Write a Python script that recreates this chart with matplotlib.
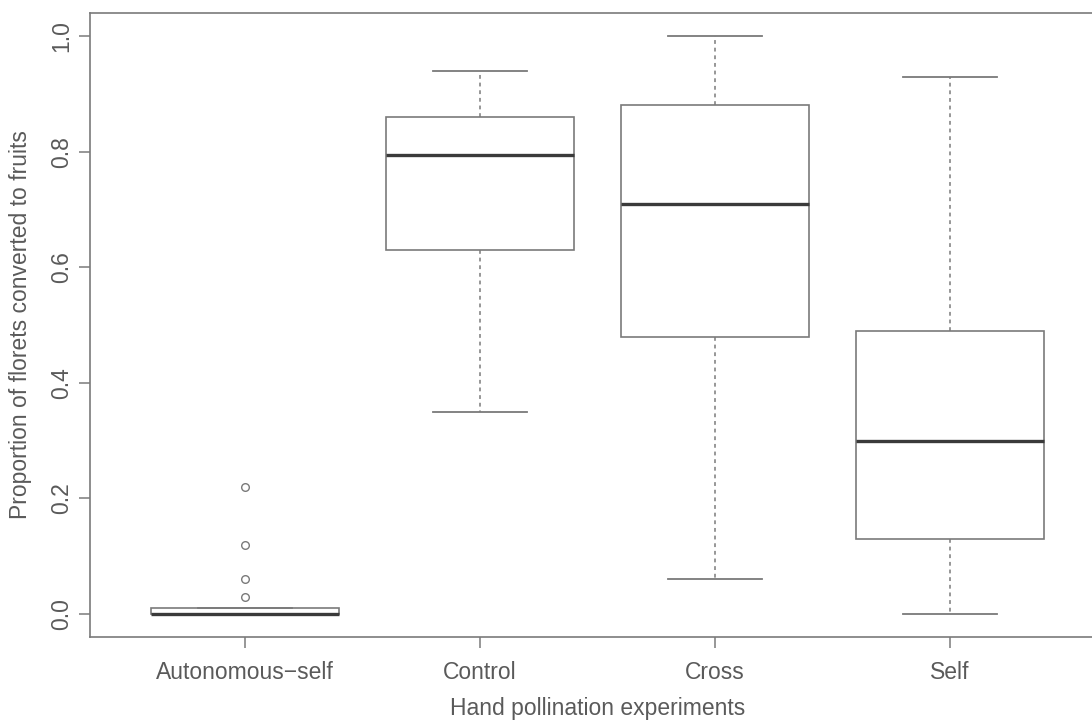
import matplotlib
matplotlib.use("Agg")
import matplotlib.pyplot as plt

categories = ["Autonomous\u2212self", "Control", "Cross", "Self"]
whisker_low = [0.0, 0.35, 0.06, 0.0]
q1 = [0.0, 0.63, 0.48, 0.13]
median = [0.0, 0.795, 0.71, 0.30]
q3 = [0.01, 0.86, 0.88, 0.49]
whisker_high = [0.01, 0.94, 1.0, 0.93]
outliers = [[0.22, 0.12, 0.06, 0.03], [], [], []]

yticks = [0.0, 0.2, 0.4, 0.6, 0.8, 1.0]
ytick_labels = ["0.0", "0.2", "0.4", "0.6", "0.8", "1.0"]

plt.rcParams['font.family'] = ['Liberation Sans', 'DejaVu Sans']
line_c = "#7a7a7a"
text_c = "#5a5a5a"
med_c = "#3a3a3a"

fig = plt.figure(figsize=(10.92, 7.24), dpi=100)
ax = fig.add_axes([90/1092, 1-637/724, 1015/1092, 624/724])

stats = []
for i, name in enumerate(categories):
    stats.append(dict(label=name, whislo=whisker_low[i], q1=q1[i], med=median[i],
                      q3=q3[i], whishi=whisker_high[i], fliers=outliers[i]))

ax.bxp(stats, positions=range(1, len(categories)+1), widths=0.8,
       patch_artist=True,
       boxprops=dict(facecolor="white", edgecolor=line_c, linewidth=1.2),
       medianprops=dict(color=med_c, linewidth=2.4, solid_capstyle="butt"),
       whiskerprops=dict(color=line_c, linewidth=1.1, linestyle=(0, (2.5, 2.5))),
       capprops=dict(color=line_c, linewidth=1.3),
       capwidths=0.4,
       flierprops=dict(marker="o", markersize=5.5, markerfacecolor="none",
                       markeredgecolor=line_c, markeredgewidth=1.0))

ax.set_xlim(0.34, 4.66)
ax.set_ylim(-0.04, 1.04)
ax.set_yticks(yticks)
ax.set_yticklabels(ytick_labels, rotation=90, va="center")
ax.set_xticks(range(1, len(categories)+1))
ax.set_xticklabels(categories)

for sp in ax.spines.values():
    sp.set_color(line_c)
    sp.set_linewidth(1.2)

ax.tick_params(axis="both", colors=line_c, labelcolor=text_c, labelsize=16.5,
               length=8, width=1.1)
ax.tick_params(axis="x", pad=9)
ax.tick_params(axis="y", pad=4)

ax.set_xlabel("Hand pollination experiments", fontsize=16.5, color=text_c, labelpad=10)
ax.set_ylabel("Proportion of florets converted to fruits", fontsize=16.5, color=text_c, labelpad=13.5)

fig.savefig("out.png", dpi=100, facecolor="white")
